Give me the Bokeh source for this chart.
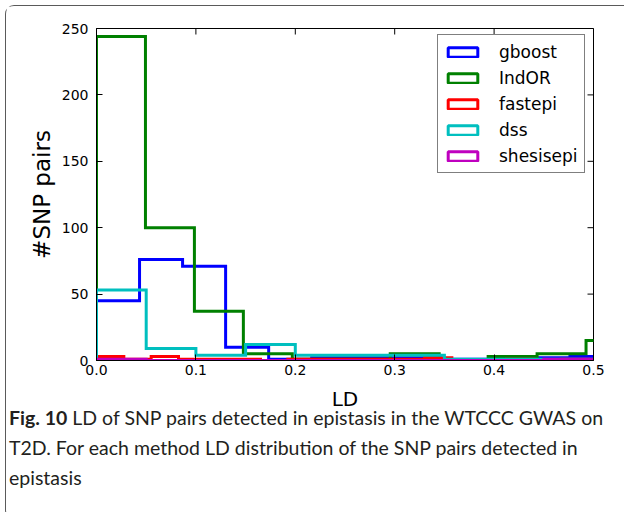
import math
from bokeh.plotting import figure
from bokeh.models import (Legend, LegendItem, FixedTicker, Range1d,
                          ColumnDataSource, Div)
from bokeh.layouts import column
from bokeh.embed import file_html
from bokeh.resources import INLINE

# ---- data (histogram counts per method) ----
methods = ["gboost", "IndOR", "fastepi", "dss", "shesisepi"]
colors = ["#0000ff", "#008000", "#ff0000", "#00bfbf", "#bf00bf"]

gboost_width = 0.0433
gboost_counts = [45, 76, 71, 10, 1, 2, 2, 2, 1, 1, 2, 3]

indor_width = 0.04925
indor_counts = [244, 100, 37, 5, 1, 1, 5, 0, 3, 5, 15]

fastepi_width = 0.0275
fastepi_counts = [3, 1, 3, 1, 1, 1, 0, 1, 1, 1, 1, 1, 2, 0, 0, 1, 0, 1, 0]

dss_width = 0.05
dss_counts = [53, 9, 4, 12, 4, 4, 4, 1, 1, 1]

shesisepi_width = 0.05
shesisepi_counts = [1, 0, 0, 0, 0, 0, 0, 0, 0, 1]

x_ticks = [0.0, 0.1, 0.2, 0.3, 0.4, 0.5]
x_tick_labels = ["0.0", "0.1", "0.2", "0.3", "0.4", "0.5"]
y_ticks = [0, 50, 100, 150, 200, 250]
y_tick_labels = ["0", "50", "100", "150", "200", "250"]

caption_bold = "Fig. 10"
caption_line1 = "LD of SNP pairs detected in epistasis in the WTCCC GWAS on"
caption_line2 = "T2D. For each method LD distribution of the SNP pairs detected in"
caption_line3 = "epistasis"

series = [
    (gboost_width, gboost_counts),
    (indor_width, indor_counts),
    (fastepi_width, fastepi_counts),
    (dss_width, dss_counts),
    (shesisepi_width, shesisepi_counts),
]


def step_path(width, counts):
    xs, ys = [0.0], [0.0]
    for i, c in enumerate(counts):
        xs += [i * width, (i + 1) * width]
        ys += [c, c]
    xs.append(len(counts) * width)
    ys.append(0.0)
    return xs, ys


W, H = 617, 408
p = figure(width=W, height=H, output_backend="svg", toolbar_location=None,
           x_range=Range1d(x_ticks[0], x_ticks[-1]),
           y_range=Range1d(y_ticks[0], y_ticks[-1]),
           min_border_left=90, min_border_right=30, min_border_top=22,
           min_border_bottom=54)
p.background_fill_color = "white"
p.border_fill_color = "white"
p.outline_line_color = "black"
p.outline_line_width = 1
p.xgrid.visible = False
p.ygrid.visible = False

tick_font = "DejaVu Sans"

p.xaxis.ticker = FixedTicker(ticks=x_ticks)
p.xaxis.major_label_overrides = dict(zip(x_ticks, x_tick_labels))
p.xaxis.axis_label = "LD"
p.yaxis.ticker = FixedTicker(ticks=y_ticks)
p.yaxis.major_label_overrides = dict(zip(y_ticks, y_tick_labels))
p.yaxis.axis_label = "#SNP pairs"

for ax in list(p.xaxis) + list(p.yaxis):
    ax.major_tick_in = 6
    ax.major_tick_out = 0
    ax.minor_tick_line_color = None
    ax.axis_line_color = "black"
    ax.major_tick_line_color = "black"
    ax.major_label_text_font = tick_font
    ax.major_label_text_font_size = "14px"
    ax.major_label_text_color = "black"
    ax.axis_label_text_font = tick_font
    ax.axis_label_text_font_style = "normal"
    ax.axis_label_text_color = "black"
p.xaxis.axis_label_text_font_size = "20px"
p.yaxis.axis_label_text_font_size = "23px"
p.xaxis.major_label_standoff = 4
p.xaxis.axis_label_standoff = 9
p.yaxis.major_label_standoff = 8
p.yaxis.axis_label_standoff = 4

items = []
for name, col, (w, counts) in zip(methods, colors, series):
    xs, ys = step_path(w, counts)
    p.line(xs, ys, line_color=col, line_width=3, line_join="miter")
    q = p.quad(source=ColumnDataSource(dict(l=[0], r=[0], t=[0], b=[0])),
               left="l", right="r", top="t", bottom="b",
               fill_color="white", line_color=col, line_width=3)
    items.append(LegendItem(label=name, renderers=[q]))

# mirrored inward ticks on the top and right edges (matplotlib style)
p.scatter(x=x_ticks, y=[y_ticks[-1]] * len(x_ticks), marker="dash",
          angle=math.pi / 2, size=12, line_color="black", line_width=1)
p.scatter(x=[x_ticks[-1]] * len(y_ticks), y=y_ticks, marker="dash",
          size=12, line_color="black", line_width=1)

legend = Legend(items=items, location=(341, 187), margin=0, padding=6,
                spacing=5, glyph_width=37, glyph_height=12, label_height=21,
                label_standoff=18, label_text_font=tick_font,
                label_text_font_size="17px", label_text_color="black",
                border_line_color="black", border_line_width=1,
                background_fill_color="white", background_fill_alpha=1)
p.add_layout(legend, "center")

caption_html = (
    '<div style="font-family: Lato, sans-serif; font-size: 19.5px; '
    'line-height: 30px; color: #231f20; white-space: nowrap; '
    'margin-top: -16px; margin-left: -2px;">'
    f'<b>{caption_bold}</b> {caption_line1}<br>{caption_line2}<br>{caption_line3}'
    '</div>'
)
cap = Div(text=caption_html, width=W, height=94)

layout = column(p, cap)
layout.styles = {"margin": "5px 0 0 5px",
                 "border-left": "1.5px solid #5a5a5a",
                 "border-top": "1.5px solid #5a5a5a",
                 "border-bottom": "1.5px solid #5a5a5a",
                 "border-radius": "9px 0 0 9px"}

open("out.html", "w").write(file_html(layout, INLINE))
